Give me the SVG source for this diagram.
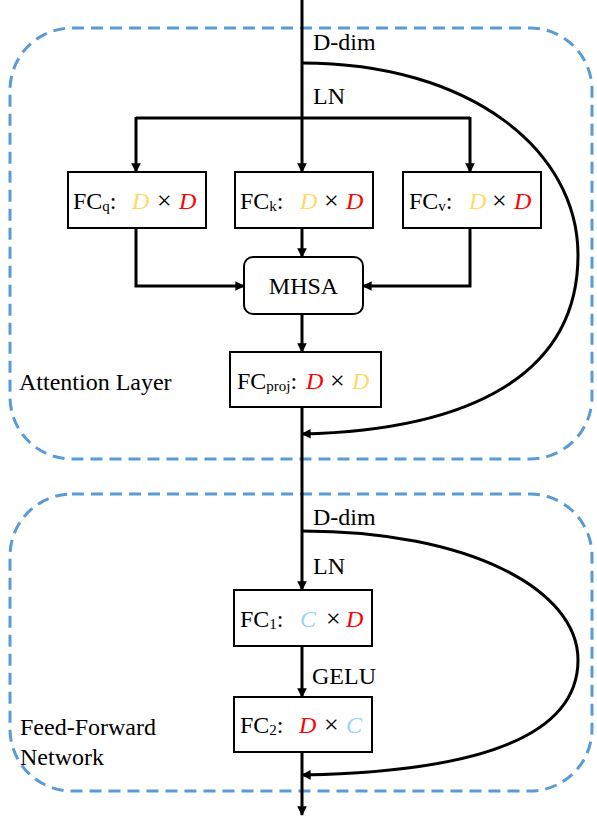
<svg xmlns="http://www.w3.org/2000/svg" width="597" height="817" viewBox="0 0 597 817">
  <style>
    .group-frame { fill: none; stroke: #5B9BD5; stroke-width: 3; stroke-dasharray: 12 7; }
    .box { fill: #ffffff; stroke: #000000; stroke-width: 2; }
    .wire { fill: none; stroke: #000000; stroke-width: 3; }
    .lbl { font-family: "Liberation Serif", "Times New Roman", serif; font-size: 24px; fill: #000000; }
    .sub { font-size: 15px; }
    .dim { font-family: "Liberation Serif", "Times New Roman", serif; font-size: 24px; font-style: italic; }
    .times { font-family: "Liberation Serif", "Times New Roman", serif; font-size: 26px; fill: #000000; }
    .yel { fill: #FFD966; }
    .red { fill: #FF0000; }
    .blu { fill: #9ED3F3; }
  </style>
  <defs>
    <marker id="arrow" viewBox="0 0 10 10" refX="9" refY="5" markerWidth="3.2" markerHeight="3.2" orient="auto" markerUnits="strokeWidth">
      <path d="M0,0 L10,5 L0,10 z" fill="#000000"/>
    </marker>
  </defs>

  <!-- block frames -->
  <rect class="group-frame" x="10" y="28" width="582" height="431" rx="62" ry="62"/>
  <rect class="group-frame" x="10" y="494" width="582" height="297" rx="62" ry="62"/>

  <!-- connectors -->
  <g id="connectors">
    <!-- attention layer -->
    <path class="wire" d="M302,0 L302,172" marker-end="url(#arrow)"/>
    <path class="wire" d="M136,118 L470,118"/>
    <path class="wire" d="M136,117 L136,172" marker-end="url(#arrow)"/>
    <path class="wire" d="M470,117 L470,172" marker-end="url(#arrow)"/>
    <path class="wire" d="M136,228 L136,286 L244,286" marker-end="url(#arrow)"/>
    <path class="wire" d="M470,228 L470,286 L363,286" marker-end="url(#arrow)"/>
    <path class="wire" d="M302,228 L302,257" marker-end="url(#arrow)"/>
    <path class="wire" d="M302,314 L302,352" marker-end="url(#arrow)"/>
    <path class="wire" d="M302,63 C470,63 578,150 578,255 C578,375 470,430 302,434" marker-end="url(#arrow)"/>
    <!-- feed-forward network -->
    <path class="wire" d="M302,407 L302,590" marker-end="url(#arrow)"/>
    <path class="wire" d="M302,646 L302,697" marker-end="url(#arrow)"/>
    <path class="wire" d="M302,752 L302,815" marker-end="url(#arrow)"/>
    <path class="wire" d="M302,531 C470,531 578,590 578,660 C578,740 470,772 302,775" marker-end="url(#arrow)"/>
  </g>

  <!-- path labels -->
  <g id="edge-labels">
    <text class="lbl" x="313" y="50">D-dim</text>
    <text class="lbl" x="313" y="104">LN</text>
    <text class="lbl" x="313" y="525">D-dim</text>
    <text class="lbl" x="313" y="574">LN</text>
    <text class="lbl" x="312" y="684">GELU</text>
  </g>

  <g id="label-attention">
    <text class="lbl" x="19" y="390">Attention Layer</text>
  </g>
  <g id="label-ffn">
    <text class="lbl" x="20" y="735">Feed-Forward</text>
    <text class="lbl" x="20" y="765">Network</text>
  </g>

  <g id="fc-q">
    <rect class="box" x="68" y="172" width="138" height="56"/>
    <text class="lbl" x="73" y="209">FC<tspan class="sub" dy="2">q</tspan><tspan dy="-2">:</tspan></text>
    <text class="dim yel" x="132" y="209">D</text>
    <text class="times" x="157" y="209">×</text>
    <text class="dim red" x="179" y="209">D</text>
  </g>

  <g id="fc-k">
    <rect class="box" x="235" y="172" width="138" height="56"/>
    <text class="lbl" x="240" y="209">FC<tspan class="sub" dy="2">k</tspan><tspan dy="-2">:</tspan></text>
    <text class="dim yel" x="300" y="209">D</text>
    <text class="times" x="324" y="209">×</text>
    <text class="dim red" x="346" y="209">D</text>
  </g>

  <g id="fc-v">
    <rect class="box" x="403" y="172" width="138" height="56"/>
    <text class="lbl" x="409" y="209">FC<tspan class="sub" dy="2">v</tspan><tspan dy="-2">:</tspan></text>
    <text class="dim yel" x="469" y="209">D</text>
    <text class="times" x="492" y="209">×</text>
    <text class="dim red" x="514" y="209">D</text>
  </g>

  <g id="mhsa">
    <rect class="box" x="244" y="257" width="119" height="57" rx="9" ry="9"/>
    <text class="lbl" x="303.5" y="294" text-anchor="middle">MHSA</text>
  </g>

  <g id="fc-proj">
    <rect class="box" x="230" y="352" width="151" height="55"/>
    <text class="lbl" x="237" y="389">FC<tspan class="sub" dy="2">proj</tspan><tspan dy="-2">:</tspan></text>
    <text class="dim red" x="306" y="389">D</text>
    <text class="times" x="330" y="389">×</text>
    <text class="dim yel" x="352" y="389">D</text>
  </g>

  <g id="fc-1">
    <rect class="box" x="234" y="590" width="138" height="56"/>
    <text class="lbl" x="240" y="627">FC<tspan class="sub" dy="2">1</tspan><tspan dy="-2">:</tspan></text>
    <text class="dim blu" x="300" y="627">C</text>
    <text class="times" x="326" y="627">×</text>
    <text class="dim red" x="346" y="627">D</text>
  </g>

  <g id="fc-2">
    <rect class="box" x="234" y="697" width="138" height="55"/>
    <text class="lbl" x="240" y="733">FC<tspan class="sub" dy="2">2</tspan><tspan dy="-2">:</tspan></text>
    <text class="dim red" x="299" y="733">D</text>
    <text class="times" x="324" y="733">×</text>
    <text class="dim blu" x="346" y="733">C</text>
  </g>
</svg>
